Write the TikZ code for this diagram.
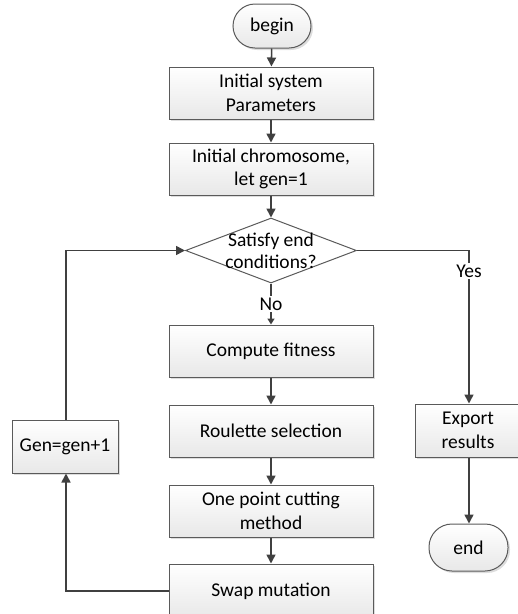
\documentclass[tikz,border=0pt]{standalone}
\usepackage{fontspec}
\setmainfont{Carlito}
\usetikzlibrary{shapes.geometric,shadows,arrows.meta}
\definecolor{edgec}{HTML}{404040}
\definecolor{bordc}{HTML}{5A5A5A}
\tikzset{
  base/.style={draw=bordc, line width=1pt, top color=white, bottom color=gray!18,
    drop shadow={shadow xshift=2pt, shadow yshift=-2pt, fill=gray!45, opacity=0.6},
    inner sep=0pt, align=center, font=\fontsize{19.5}{23.5}\selectfont, text=black},
  procbox/.style={base, minimum width=204pt, minimum height=52pt},
  sidebox/.style={base, minimum width=106pt, minimum height=53pt},
  termbox/.style={base, rounded corners=22pt, minimum width=78pt, minimum height=44pt},
  decbox/.style={diamond, draw=bordc, line width=1pt, fill=white, inner sep=0pt,
    minimum width=171pt, minimum height=65pt},
  flow/.style={draw=edgec, line width=1.6pt, -{Triangle[length=9pt,width=9pt]}},
  lbl/.style={fill=white, inner sep=1.5pt, font=\fontsize{19.5}{23.5}\selectfont, text=black}
}
\begin{document}
\begin{tikzpicture}[x=1pt,y=-1pt]
\useasboundingbox (0,0) rectangle (518,614);
\clip (0,0) rectangle (518,614);
\node[termbox] (begin) at (272,26) {begin};
\node[procbox] (init1) at (271,93) {Initial system\\Parameters};
\node[procbox] (init2) at (271,169) {Initial chromosome,\\let gen=1};
\node[decbox] (dec) at (271,250.5) {};
\node[align=center, inner sep=0pt, font=\fontsize{19.5}{22}\selectfont, text=black] (dectext) at (271,251) {Satisfy end\\conditions?};
\node[procbox] (comp) at (271,351) {Compute fitness};
\node[procbox] (roul) at (271,431) {Roulette selection};
\node[procbox] (cut) at (271,511) {One point cutting\\method};
\node[procbox, minimum height=54pt] (swap) at (271,591) {Swap mutation};
\node[sidebox] (gen) at (65,446.5) {Gen=gen+1};
\node[sidebox] (exp) at (468,430.5) {Export\\results};
\node[termbox, minimum width=79pt, minimum height=47pt, rounded corners=23pt] (end) at (468.5,547.5) {end};
\coordinate (lb) at (66,591);
\coordinate (lt) at (66,250.5);
\coordinate (rt) at (469,250.5);

\draw[flow] (begin) -- (init1);
\draw[flow] (init1) -- (init2);
\draw[flow] (init2) -- (dec);
\draw[flow, -{Triangle[length=6pt,width=7pt]}] (dec) -- node[lbl, pos=0.5] {No} (comp);
\draw[flow] (comp) -- (roul);
\draw[flow] (roul) -- (cut);
\draw[flow] (cut) -- (swap);
\draw[flow] (swap.west) -- (lb) -- (gen.south -| lb);
\draw[flow] (gen.north -| lb) -- (lt) -- (dec.west);
\draw[flow] (dec.east) -- (rt) -- node[lbl, pos=0.135] {Yes} (exp.north -| rt);
\draw[flow] (exp.south -| rt) -- (end.north -| rt);
\end{tikzpicture}
\end{document}
